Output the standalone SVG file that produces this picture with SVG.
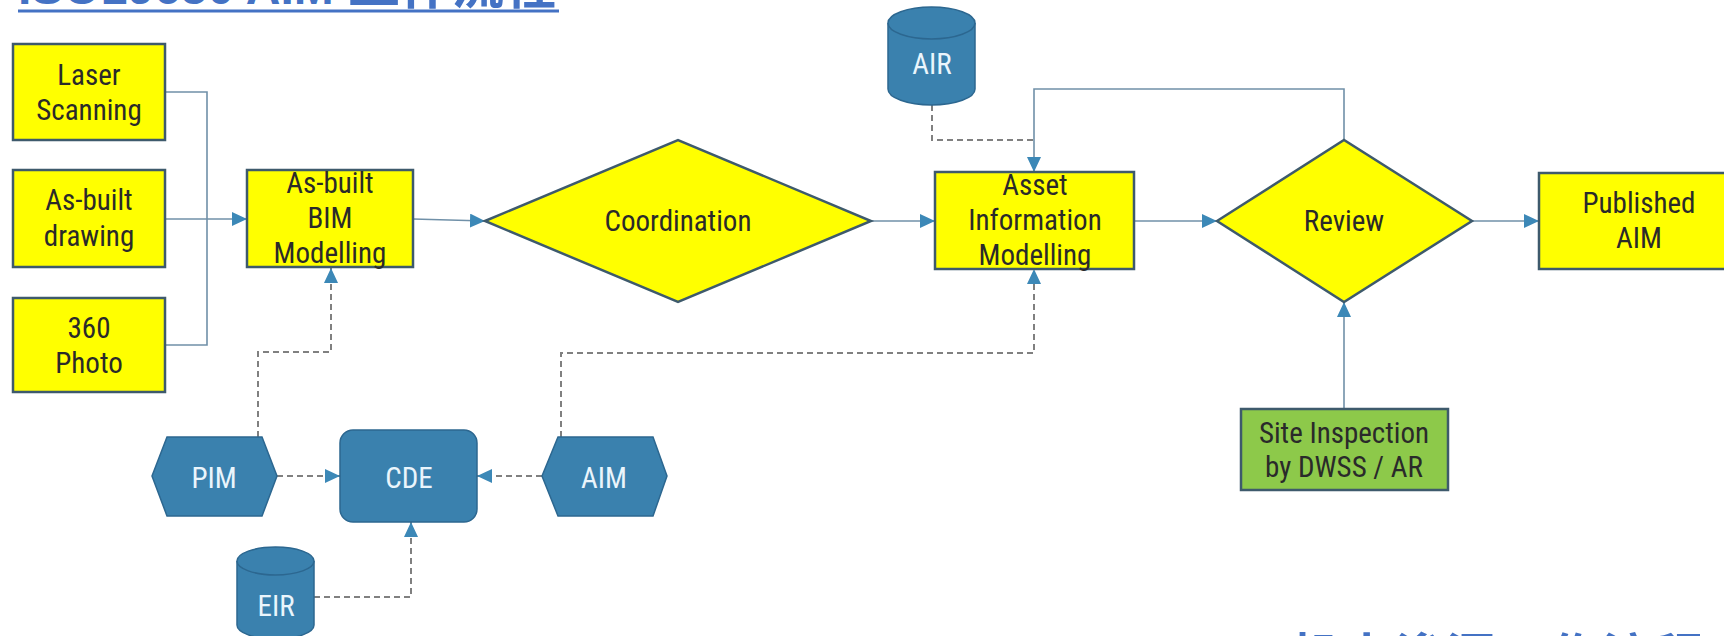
<svg xmlns="http://www.w3.org/2000/svg" width="1724" height="636" viewBox="0 0 1724 636">
<defs>
<style>
.box{fill:#FFFF00;stroke:#3E5A6C;stroke-width:2.5}
.green{fill:#8DC94A;stroke:#3E5A6C;stroke-width:2.5}
.blue{fill:#3A81AE;stroke:#2C6790;stroke-width:1.5}
.t{font-family:"Liberation Sans Narrow","Roboto Condensed","DejaVu Sans Condensed","Liberation Sans",sans-serif;font-size:29px;fill:#2A2A2A;text-anchor:middle}
.w{fill:#EAF5FC}
.ln{fill:none;stroke:#7090A8;stroke-width:1.6}
.dl{fill:none;stroke:#808080;stroke-width:2;stroke-dasharray:6 4}
.title{font-family:"Liberation Sans","Noto Sans CJK SC",sans-serif;font-weight:bold;fill:#4472C4}
</style>
<marker id="ah" markerUnits="userSpaceOnUse" markerWidth="16" markerHeight="16" refX="15" refY="7" orient="auto">
<path d="M0,0 L15,7 L0,14 Z" fill="#3C88B7"/>
</marker>
</defs>
<rect width="1724" height="636" fill="#FFFFFF"/>

<g id="title">
<text class="title" x="18" y="4" font-size="48">ISO19650 AIM <tspan font-size="52" x="348">工作流程</tspan></text>
<line x1="18" y1="11" x2="559" y2="11" stroke="#4472C4" stroke-width="3"/>
</g>
<g id="subtitle">
<text class="title" x="1290" y="675" font-size="50" letter-spacing="2">机电渗漏工作流程</text>
</g>

<g id="connectors">
<path class="ln" d="M165,92 H207 V345 H165"/>
<path class="ln" d="M165,219 H247" marker-end="url(#ah)"/>
<path class="ln" d="M413,219 L485,221" marker-end="url(#ah)"/>
<path class="ln" d="M872,221 H935" marker-end="url(#ah)"/>
<path class="ln" d="M1134,221 H1217" marker-end="url(#ah)"/>
<path class="ln" d="M1472,221 H1539" marker-end="url(#ah)"/>
<path class="ln" d="M1344,140 V89 H1034 V172" marker-end="url(#ah)"/>
<path class="ln" d="M1344,409 V302" marker-end="url(#ah)"/>
<path class="dl" d="M932,105 V140 H1034"/>
<path class="dl" d="M258,437 V352 H331 V268" marker-end="url(#ah)"/>
<path class="dl" d="M277,476 H340" marker-end="url(#ah)"/>
<path class="dl" d="M542,476 H477" marker-end="url(#ah)"/>
<path class="dl" d="M561,437 V353 H1034 V269" marker-end="url(#ah)"/>
<path class="dl" d="M314,597 H411 V522" marker-end="url(#ah)"/>
</g>

<g id="laser">
<rect class="box" x="13" y="44" width="152" height="96"/>
<text class="t" x="89" y="85">Laser</text>
<text class="t" x="89" y="120">Scanning</text>
</g>
<g id="drawing">
<rect class="box" x="13" y="170" width="152" height="97"/>
<text class="t" x="89" y="210">As-built</text>
<text class="t" x="89" y="246">drawing</text>
</g>
<g id="photo">
<rect class="box" x="13" y="298" width="152" height="94"/>
<text class="t" x="89" y="338">360</text>
<text class="t" x="89" y="373">Photo</text>
</g>
<g id="bim">
<rect class="box" x="247" y="170" width="166" height="97"/>
<text class="t" x="330" y="193">As-built</text>
<text class="t" x="330" y="228">BIM</text>
<text class="t" x="330" y="263">Modelling</text>
</g>
<g id="coordination">
<polygon class="box" points="485,221 678,140 871,221 678,302"/>
<text class="t" x="678" y="231">Coordination</text>
</g>
<g id="air">
<path class="blue" d="M888,23 A43.5,16 0 0 1 975,23 L975,89 A43.5,16 0 0 1 888,89 Z"/>
<path class="blue" d="M888,23 A43.5,16 0 0 0 975,23"/>
<text class="t w" x="932" y="74">AIR</text>
</g>
<g id="aimodel">
<rect class="box" x="935" y="172" width="199" height="97"/>
<text class="t" x="1035" y="195">Asset</text>
<text class="t" x="1035" y="230">Information</text>
<text class="t" x="1035" y="265">Modelling</text>
</g>
<g id="review">
<polygon class="box" points="1217,221 1344,140 1472,221 1344,302"/>
<text class="t" x="1344" y="231">Review</text>
</g>
<g id="published">
<rect class="box" x="1539" y="173" width="200" height="96"/>
<text class="t" x="1639" y="213">Published</text>
<text class="t" x="1639" y="248">AIM</text>
</g>
<g id="site">
<rect class="green" x="1241" y="409" width="207" height="81"/>
<text class="t" x="1344" y="443">Site Inspection</text>
<text class="t" x="1344" y="477">by DWSS / AR</text>
</g>
<g id="pim">
<polygon class="blue" points="152,476 167,437 262,437 277,476 262,516 167,516"/>
<text class="t w" x="214" y="488">PIM</text>
</g>
<g id="cde">
<rect class="blue" x="340" y="430" width="137" height="92" rx="13"/>
<text class="t w" x="409" y="488">CDE</text>
</g>
<g id="aim">
<polygon class="blue" points="542,476 558,437 653,437 667,476 653,516 558,516"/>
<text class="t w" x="604" y="488">AIM</text>
</g>
<g id="eir">
<path class="blue" d="M237,561 A38.5,14 0 0 1 314,561 L314,625 A38.5,14 0 0 1 237,625 Z"/>
<path class="blue" d="M237,561 A38.5,14 0 0 0 314,561"/>
<text class="t w" x="276" y="616">EIR</text>
</g>
</svg>
